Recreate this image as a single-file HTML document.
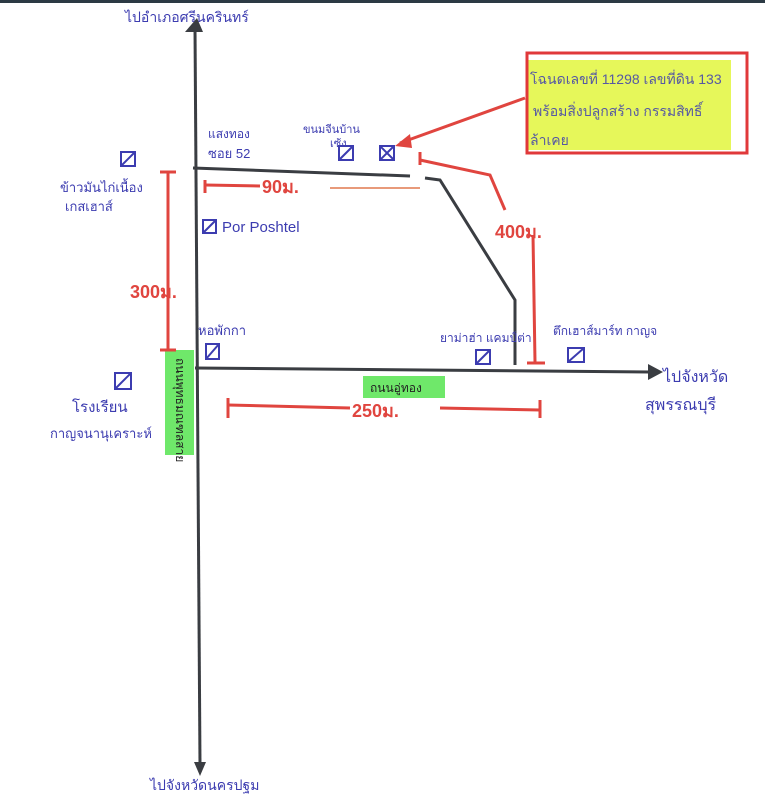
<!DOCTYPE html>
<html><head><meta charset="utf-8"><style>
body{margin:0;background:#fff;width:765px;height:800px;overflow:hidden}
svg text{font-family:"Liberation Sans","Noto Sans CJK SC",sans-serif}
</style></head><body>
<svg width="765" height="800" viewBox="0 0 765 800">
<rect x="0" y="0" width="765" height="3" fill="#2c3a44"/>
<!-- roads -->
<g stroke="#3a3d42" stroke-width="3" fill="none">
<line x1="195" y1="28" x2="200" y2="765"/>
<line x1="195" y1="368" x2="650" y2="372"/>
<polyline points="193,168 410,176"/>
<polyline points="425,178 440,180 515,300 515,365"/>
</g>
<polygon points="185,32 197,18 203,32" fill="#3a3d42"/>
<polygon points="194,762 200,776 206,762" fill="#3a3d42"/>
<polygon points="648,364 663,372 648,380" fill="#3a3d42"/>
<!-- green highlights -->
<rect x="165" y="350" width="29" height="105" fill="#6fe86a"/>
<rect x="363" y="376" width="82" height="22" fill="#6fe86a"/>
<rect x="527" y="60" width="204" height="90" fill="#e6f75a"/>
<rect x="527" y="53" width="220" height="100" fill="none" stroke="#e0383a" stroke-width="3"/>
<!-- red dimensions -->
<g stroke="#e0453f" stroke-width="3" fill="none">
<line x1="168" y1="172" x2="168" y2="350"/>
<line x1="160" y1="172" x2="176" y2="172"/>
<line x1="160" y1="350" x2="176" y2="350"/>
<line x1="205" y1="185" x2="260" y2="186"/>
<line x1="205" y1="180" x2="205" y2="193"/>
<line x1="228" y1="405" x2="350" y2="408"/>
<line x1="440" y1="408" x2="540" y2="410"/>
<line x1="228" y1="398" x2="228" y2="418"/>
<line x1="540" y1="400" x2="540" y2="418"/>
<line x1="533" y1="235" x2="535" y2="362"/>
<line x1="527" y1="363" x2="545" y2="363"/>
<polyline points="420,160 490,175 505,210"/>
<line x1="420" y1="152" x2="420" y2="165"/>
<line x1="525" y1="98" x2="400" y2="143"/>
</g>
<polygon points="395,146 410,134 412,148" fill="#e0453f"/>
<line x1="330" y1="188" x2="420" y2="188" stroke="#e89a7a" stroke-width="2"/>
<!-- buildings -->
<g fill="none" stroke="#3c3cb0" stroke-width="2">
<rect x="121" y="152" width="14" height="14"/><line x1="121" y1="166" x2="135" y2="152"/>
<rect x="339" y="146" width="14" height="14"/><line x1="339" y1="160" x2="353" y2="146"/>
<rect x="380" y="146" width="14" height="14"/><line x1="380" y1="146" x2="394" y2="160"/><line x1="380" y1="160" x2="394" y2="146"/>
<rect x="203" y="220" width="13" height="13"/><line x1="203" y1="233" x2="216" y2="220"/>
<rect x="206" y="344" width="13" height="15"/><line x1="206" y1="359" x2="219" y2="344"/>
<rect x="115" y="373" width="16" height="16"/><line x1="115" y1="389" x2="131" y2="373"/>
<rect x="476" y="350" width="14" height="14"/><line x1="476" y1="364" x2="490" y2="350"/>
<rect x="568" y="348" width="16" height="14"/><line x1="568" y1="362" x2="584" y2="348"/>
</g>
<!-- labels -->
<g fill="#3c3cb0" font-size="14">
<text x="125" y="22">ไปอำเภอศรีนครินทร์</text>
<text x="150" y="790">ไปจังหวัดนครปฐม</text>
<text x="663" y="382" font-size="16">ไปจังหวัด</text>
<text x="645" y="410" font-size="16">สุพรรณบุรี</text>
<text x="208" y="138" font-size="12">แสงทอง</text>
<text x="208" y="158" font-size="13">ซอย 52</text>
<text x="303" y="133" font-size="11">ขนมจีนบ้าน</text>
<text x="330" y="147" font-size="11">เซ้ง</text>
<text x="60" y="192" font-size="13">ข้าวมันไก่เนื้อง</text>
<text x="65" y="211" font-size="13">เกสเฮาส์</text>
<text x="222" y="232" font-size="15">Por Poshtel</text>
<text x="198" y="335" font-size="13">หอพักกา</text>
<text x="440" y="342" font-size="12">ยาม่าฮ่า แคมป์ต่า</text>
<text x="553" y="335" font-size="12">ตึกเฮาส์มาร์ท กาญจ</text>
<text x="72" y="412" font-size="15">โรงเรียน</text>
<text x="50" y="438" font-size="13">กาญจนานุเคราะห์</text>
<text x="370" y="392" font-size="12" fill="#222">ถนนอู่ทอง</text>
<text transform="translate(176,358) rotate(90)" font-size="12" fill="#222">ถนนพุทธมณฑลสาย</text>
</g>
<g fill="#222" font-size="14" fill-opacity=".85">
<text x="530" y="84" fill="#3c3cb0">โฉนดเลขที่ 11298 เลขที่ดิน 133</text>
<text x="533" y="116" fill="#3c3cb0">พร้อมสิ่งปลูกสร้าง กรรมสิทธิ์</text>
<text x="530" y="145" fill="#3c3cb0">ล้าเคย</text>
</g>
<g fill="#e0453f" font-weight="bold" font-size="18">
<text x="262" y="193">90ม.</text>
<text x="495" y="238">400ม.</text>
<text x="130" y="298">300ม.</text>
<text x="352" y="417">250ม.</text>
</g>
</svg>
</body></html>
